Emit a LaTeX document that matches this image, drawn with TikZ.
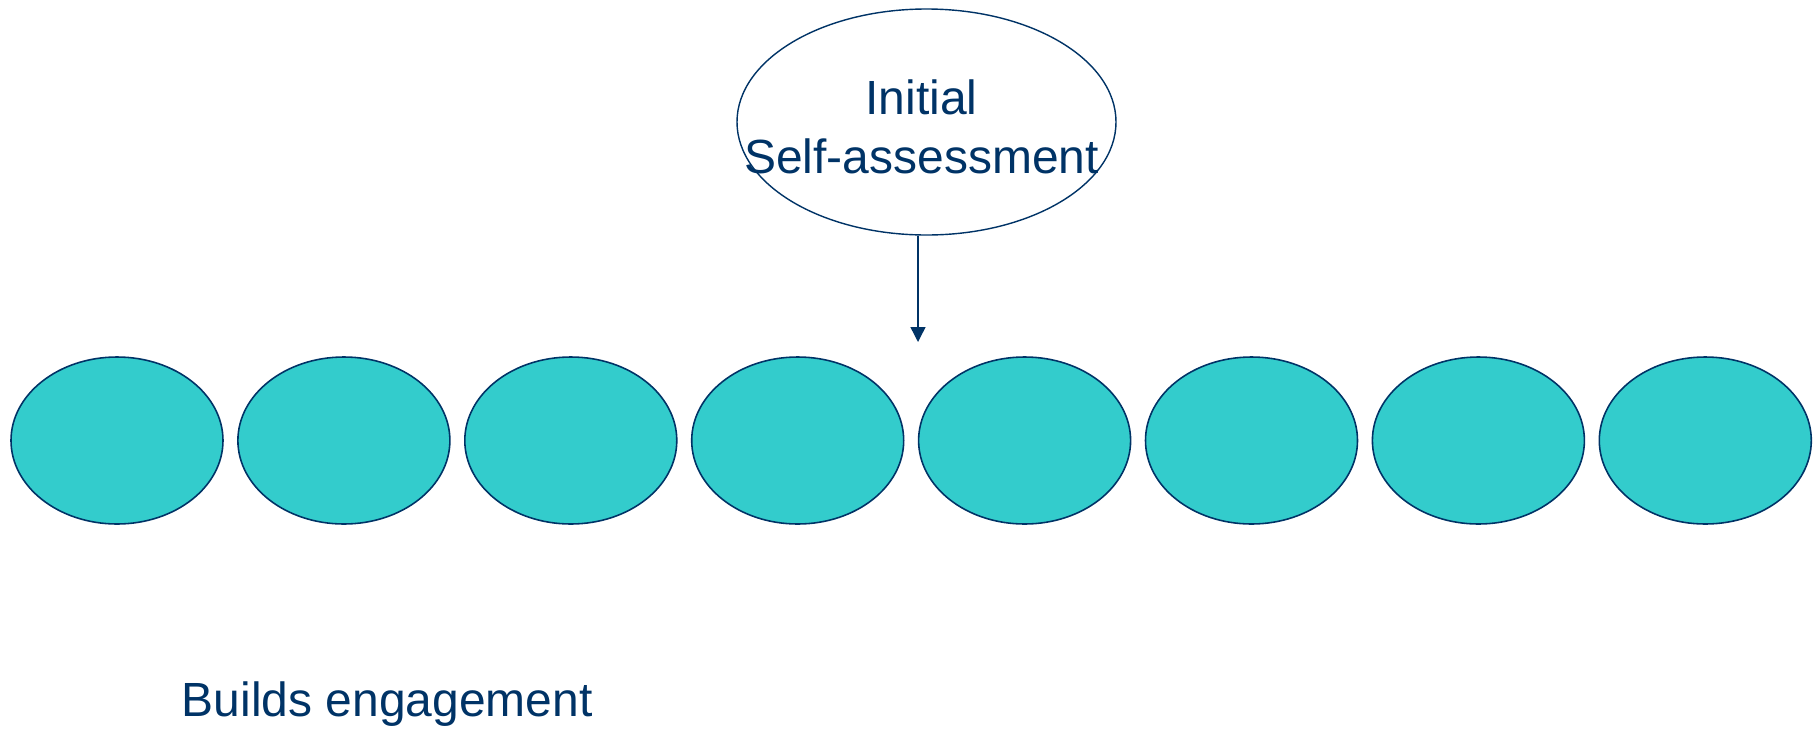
\documentclass[tikz,border=0pt]{standalone}
\usepackage{fontspec}
\setmainfont{Liberation Sans}
\usetikzlibrary{arrows.meta,shapes.geometric}
\definecolor{navy}{HTML}{003366}
\definecolor{teal}{HTML}{33CCCC}
\tikzset{stage/.style={ellipse,draw=navy,fill=teal,line width=0.9pt,minimum width=4.24cm,minimum height=3.34cm,inner sep=0pt},
assess/.style={ellipse,draw=navy,line width=0.8pt,minimum width=7.58cm,minimum height=4.52cm,inner sep=0pt},
flow/.style={->,line width=0.8pt,color=navy},
label/.style={text=navy,font=\fontsize{27.3}{33.4}\selectfont,inner sep=0pt}}

\begin{document}
\begin{tikzpicture}[>={Triangle[length=0.3cm,width=0.3cm]}]
\useasboundingbox (0,0) rectangle (36.28,-14.6);
\node[assess] (self) at (18.53,-2.44) {};
\node[label,align=center,xshift=-0.1cm,yshift=-0.1cm] (selftext) at (self) {Initial\\Self-assessment};
\foreach \i in {0,...,7}{\node[stage] (s\i) at (2.34+4.538*\i,-8.81) {};}
\coordinate (tip) at (18.36,-6.84);
\draw[flow] (self.south -| tip)--(tip);
\node[label,anchor=base west] (builds) at (3.63,-14.32) {Builds engagement};
\end{tikzpicture}
\end{document}
